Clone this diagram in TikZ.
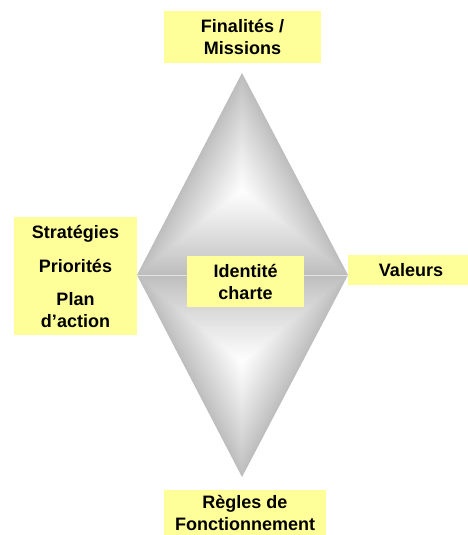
\documentclass[tikz,border=0pt]{standalone}
\usepackage{fontspec}
\setmainfont{Liberation Sans}
\usetikzlibrary{calc}
\definecolor{boxyellow}{RGB}{255,255,153}
\definecolor{edgegray}{RGB}{189,189,189}
\definecolor{seamgray}{RGB}{228,228,228}
\tikzset{
  labelbox/.style={fill=boxyellow, draw=none, inner sep=0pt, align=center,
    font=\fontsize{18}{22}\selectfont\bfseries, text=black},
}
\begin{document}
\begin{tikzpicture}[x=1pt,y=-1pt]
\useasboundingbox (0,0) rectangle (467,535);
% diamond vertices
\coordinate (apex) at (242,73);
\coordinate (lft) at (137,275);
\coordinate (rgt) at (348,275);
\coordinate (bot) at (242,477);
\coordinate (uc) at (242,190);
\coordinate (lc) at (242,362);
% upper triangle, bevel shading
\foreach \i in {0,...,60}{
  \pgfmathsetmacro\s{1-\i/60}
  \pgfmathsetmacro\p{100*(\i/60)^0.9}
  \fill[white!\p!edgegray] ($(uc)!\s!(apex)$) -- ($(uc)!\s!(lft)$) -- ($(uc)!\s!(rgt)$) -- cycle;
}
% lower triangle, bevel shading
\foreach \i in {0,...,60}{
  \pgfmathsetmacro\s{1-\i/60}
  \pgfmathsetmacro\p{100*(\i/60)^0.9}
  \fill[white!\p!edgegray] ($(lc)!\s!(bot)$) -- ($(lc)!\s!(lft)$) -- ($(lc)!\s!(rgt)$) -- cycle;
}
\draw[seamgray, line width=0.8pt] (lft) -- (rgt);
% labels
\node[labelbox, minimum width=157pt, minimum height=52pt] (fin) at (242.5,37) {Finalités /\\Missions};
\node[labelbox, minimum width=123pt, minimum height=118pt] (strat) at (75.5,276)
  {Stratégies\\[12pt]Priorités\\[11pt]Plan\\d’action};
\node[labelbox, minimum width=117pt, minimum height=51pt] (ident) at (245.5,281.5) {Identité\\charte};
\node[labelbox, minimum width=126pt, minimum height=30pt] (val) at (411,270) {Valeurs};
\node[labelbox, minimum width=162pt, minimum height=46pt] (regles) at (245,512.5) {Règles de\\Fonctionnement};
\end{tikzpicture}
\end{document}
